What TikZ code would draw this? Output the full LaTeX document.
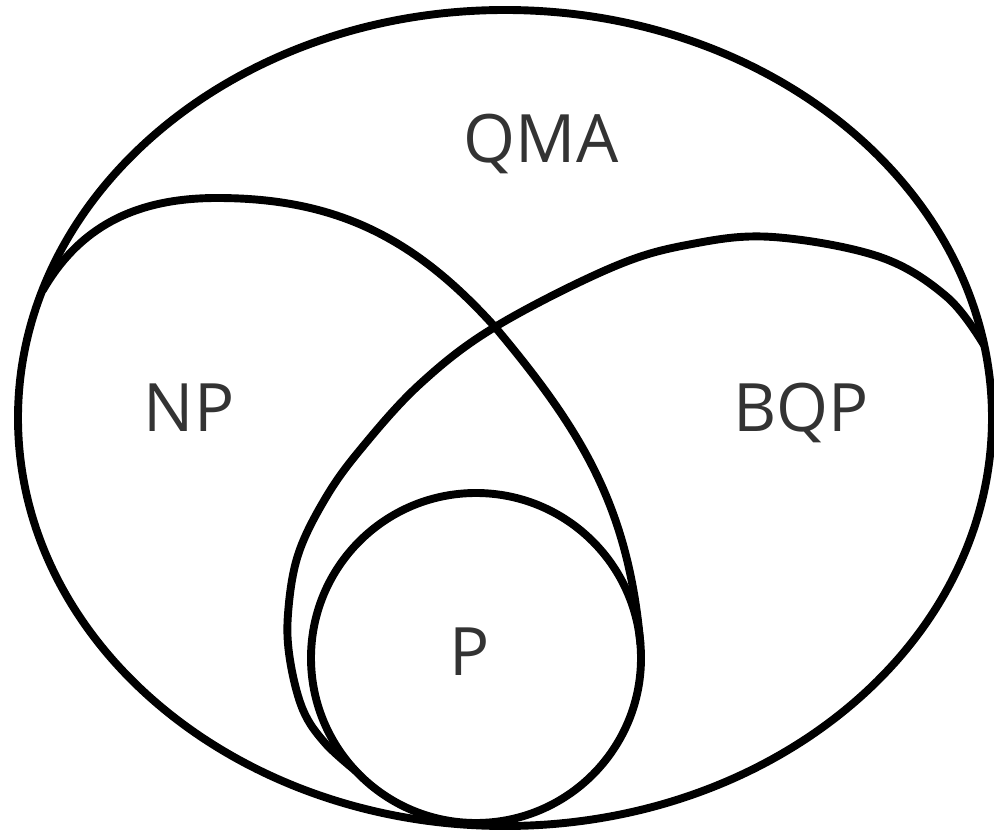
\documentclass[tikz,border=0pt]{standalone}
\usepackage{fontspec}
\setmainfont{Open Sans}
\usetikzlibrary{positioning}
\tikzset{
  setline/.style={draw=black,line width=4.5pt,line cap=round},
  lbl/.style={font=\fontsize{38}{40}\selectfont,text=black!80,
              inner sep=0pt,anchor=base},
}

\begin{document}
\begin{tikzpicture}[x=0.02cm,y=0.02cm]
  \useasboundingbox (0,0) rectangle (994,829);
  % outer set and P
  \coordinate (qc) at (505,411);
  \coordinate (pc) at (476,171);
  \draw[setline] (qc) ellipse[x radius=487,y radius=408];
  \draw[setline] (pc) circle[radius=165];
  % NP and BQP borders
  \coordinate (j1) at (43,539);
  \coordinate (nptop) at (217,631);
  \coordinate (cross) at (495,502);
  \coordinate (t1) at ([shift={(5:165)}]pc);
  \coordinate (t2) at ([shift={(223:165)}]pc);
  \coordinate (bqtop) at (773,592);
  \coordinate (j2) at (984,484);
  \draw[setline] (j1) to[out=60,in=180] (nptop) to[out=0,in=132] (cross)
    to[out=-50,in=95] (t1);
  \draw[setline] plot[smooth,tension=0.6] coordinates {(t2) (325,86) (303,119)
    (290,169) (288,215) (298,274) (325,330) (360,379) (420,445) (cross)
    (613,562) (692,585) (bqtop) (880,572) (947,532) (j2)};
  % labels
  \node[lbl] (qma) at (541,666) {QMA};
  \node[lbl] (np) at (189,397) {NP};
  \node[lbl] (bqp) at (801,397) {BQP};
  \node[lbl] (p) at (470,154) {P};
\end{tikzpicture}
\end{document}
